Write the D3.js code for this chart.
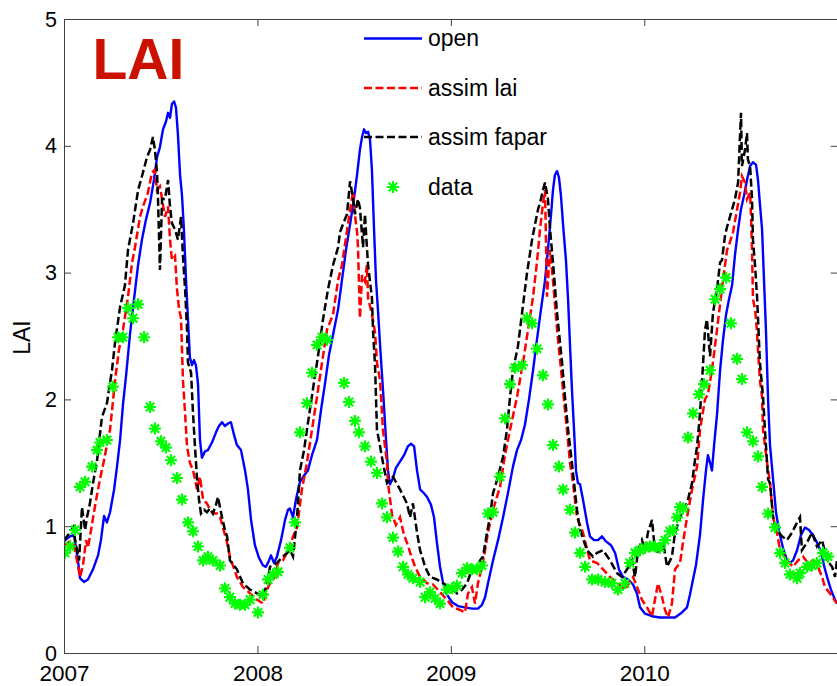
<!DOCTYPE html>
<html>
<head>
<meta charset="utf-8">
<script src="https://cdn.jsdelivr.net/npm/d3@7"></script>
<style>
  html, body { margin: 0; padding: 0; background: #fff; }
  svg { display: block; }
  text { font-family: "Liberation Sans", Arial, Helvetica, sans-serif; }
</style>
</head>
<body>
<svg id="chart" width="837" height="686"></svg>
<script>
// ---------------- data (decimal year, LAI) ----------------
const xTicks = [2007, 2008, 2009, 2010];
const yTicks = [0, 1, 2, 3, 4, 5];
const seriesNames = ["open", "assim lai", "assim fapar", "data"];

const openData = [
[2007.000,0.88],[2007.031,0.92],[2007.052,0.93],[2007.072,0.73],[2007.083,0.59],[2007.103,0.56],[2007.124,0.58],[2007.150,0.66],[2007.176,0.77],[2007.191,0.89],
[2007.207,1.08],[2007.222,1.03],[2007.238,1.11],[2007.259,1.29],[2007.274,1.47],[2007.290,1.68],[2007.305,1.96],[2007.321,2.19],[2007.341,2.51],[2007.362,2.79],
[2007.383,3.06],[2007.403,3.26],[2007.424,3.42],[2007.445,3.55],[2007.465,3.73],[2007.481,3.91],[2007.496,3.99],[2007.512,4.13],[2007.527,4.19],[2007.538,4.26],
[2007.548,4.22],[2007.558,4.33],[2007.569,4.35],[2007.579,4.30],[2007.589,4.09],[2007.600,3.77],[2007.610,3.61],[2007.620,3.34],[2007.631,2.94],[2007.641,2.63],
[2007.651,2.33],[2007.662,2.27],[2007.672,2.31],[2007.682,2.27],[2007.693,2.12],[2007.703,1.68],[2007.713,1.54],[2007.729,1.59],[2007.744,1.60],[2007.765,1.66],
[2007.786,1.74],[2007.801,1.79],[2007.817,1.82],[2007.832,1.79],[2007.848,1.81],[2007.863,1.82],[2007.879,1.72],[2007.894,1.64],[2007.915,1.60],[2007.936,1.44],
[2007.951,1.29],[2007.967,1.05],[2007.987,0.85],[2008.008,0.75],[2008.029,0.69],[2008.044,0.68],[2008.060,0.73],[2008.070,0.77],[2008.086,0.71],[2008.101,0.76],
[2008.122,0.89],[2008.143,1.05],[2008.158,1.13],[2008.168,1.14],[2008.184,1.07],[2008.199,1.21],[2008.220,1.35],[2008.241,1.40],[2008.261,1.44],[2008.282,1.56],
[2008.308,1.68],[2008.329,1.92],[2008.349,2.12],[2008.370,2.35],[2008.391,2.51],[2008.417,2.71],[2008.437,2.94],[2008.458,3.18],[2008.479,3.38],[2008.499,3.58],
[2008.515,3.77],[2008.530,3.97],[2008.541,4.07],[2008.551,4.13],[2008.561,4.10],[2008.572,4.11],[2008.582,4.05],[2008.592,3.81],[2008.603,3.34],[2008.613,2.94],
[2008.623,2.71],[2008.634,2.43],[2008.649,2.08],[2008.665,1.68],[2008.675,1.44],[2008.685,1.33],[2008.701,1.38],[2008.716,1.46],[2008.737,1.51],[2008.758,1.56],
[2008.778,1.63],[2008.794,1.65],[2008.810,1.63],[2008.825,1.44],[2008.841,1.29],[2008.861,1.26],[2008.877,1.23],[2008.897,1.17],[2008.913,1.07],[2008.928,0.87],
[2008.944,0.68],[2008.959,0.56],[2008.980,0.46],[2009.006,0.40],[2009.037,0.37],[2009.073,0.36],[2009.109,0.35],[2009.140,0.35],[2009.161,0.38],[2009.177,0.44],
[2009.192,0.55],[2009.218,0.73],[2009.244,0.89],[2009.270,1.07],[2009.295,1.26],[2009.321,1.47],[2009.342,1.60],[2009.363,1.68],[2009.383,1.80],[2009.404,2.00],
[2009.425,2.23],[2009.445,2.47],[2009.466,2.71],[2009.487,2.94],[2009.502,3.18],[2009.518,3.46],[2009.528,3.65],[2009.538,3.77],[2009.549,3.80],[2009.559,3.75],
[2009.569,3.61],[2009.580,3.38],[2009.595,3.10],[2009.606,2.79],[2009.616,2.43],[2009.626,2.08],[2009.637,1.76],[2009.647,1.44],[2009.657,1.34],[2009.668,1.33],
[2009.683,1.21],[2009.704,1.03],[2009.719,0.92],[2009.740,0.89],[2009.761,0.89],[2009.781,0.92],[2009.802,0.88],[2009.828,0.85],[2009.849,0.79],[2009.869,0.66],
[2009.890,0.60],[2009.916,0.58],[2009.942,0.54],[2009.962,0.47],[2009.978,0.36],[2010.004,0.31],[2010.040,0.29],[2010.081,0.28],[2010.123,0.28],[2010.159,0.28],
[2010.195,0.32],[2010.221,0.36],[2010.236,0.46],[2010.252,0.58],[2010.267,0.69],[2010.288,0.93],[2010.304,1.21],[2010.319,1.44],[2010.329,1.56],[2010.340,1.50],
[2010.350,1.44],[2010.361,1.64],[2010.376,1.88],[2010.392,2.23],[2010.407,2.47],[2010.423,2.67],[2010.438,2.79],[2010.454,2.90],[2010.469,3.14],[2010.485,3.34],
[2010.500,3.50],[2010.516,3.61],[2010.531,3.73],[2010.547,3.84],[2010.562,3.87],[2010.578,3.85],[2010.588,3.73],[2010.598,3.54],[2010.609,3.34],[2010.619,2.94],
[2010.629,2.55],[2010.640,2.00],[2010.650,1.64],[2010.666,1.37],[2010.681,1.11],[2010.697,0.96],[2010.717,0.83],[2010.738,0.73],[2010.753,0.71],[2010.769,0.73],
[2010.790,0.81],[2010.810,0.93],[2010.831,0.99],[2010.852,0.97],[2010.872,0.93],[2010.893,0.87],[2010.914,0.80],[2010.929,0.69],[2010.945,0.60],[2010.965,0.50],
[2010.986,0.42],[2010.996,0.39]
];

const lafData = [
[2007.000,0.85],[2007.031,0.88],[2007.052,0.85],[2007.067,0.73],[2007.083,0.60],[2007.098,0.69],[2007.114,0.89],[2007.124,0.83],[2007.140,0.97],[2007.155,1.11],
[2007.171,1.25],[2007.186,1.37],[2007.207,1.52],[2007.222,1.64],[2007.238,1.76],[2007.264,2.15],[2007.284,2.39],[2007.305,2.55],[2007.331,2.81],[2007.352,3.08],
[2007.367,3.20],[2007.393,3.44],[2007.408,3.52],[2007.434,3.63],[2007.455,3.79],[2007.470,3.81],[2007.481,3.65],[2007.496,3.68],[2007.507,3.58],[2007.522,3.44],
[2007.538,3.52],[2007.548,3.26],[2007.558,3.10],[2007.574,3.13],[2007.584,2.87],[2007.595,2.71],[2007.605,2.64],[2007.615,2.15],[2007.626,1.89],[2007.636,1.63],
[2007.651,1.50],[2007.667,1.44],[2007.677,1.37],[2007.688,1.29],[2007.703,1.39],[2007.719,1.21],[2007.739,1.18],[2007.755,1.13],[2007.770,1.10],[2007.791,1.10],
[2007.807,1.07],[2007.822,0.99],[2007.843,0.87],[2007.858,0.76],[2007.894,0.60],[2007.925,0.52],[2007.962,0.47],[2007.998,0.42],[2008.029,0.39],[2008.050,0.50],
[2008.065,0.55],[2008.091,0.60],[2008.106,0.71],[2008.132,0.73],[2008.168,0.84],[2008.184,0.92],[2008.205,0.99],[2008.230,1.29],[2008.256,1.50],[2008.282,1.76],
[2008.308,2.02],[2008.334,2.29],[2008.360,2.55],[2008.391,2.67],[2008.417,2.94],[2008.437,3.06],[2008.468,3.38],[2008.489,3.59],[2008.494,3.64],[2008.504,3.46],
[2008.515,3.32],[2008.520,3.20],[2008.530,2.64],[2008.541,2.98],[2008.556,2.93],[2008.566,3.06],[2008.572,2.80],[2008.592,2.67],[2008.608,2.53],[2008.618,2.29],
[2008.634,2.15],[2008.649,1.76],[2008.670,1.50],[2008.675,1.34],[2008.696,1.09],[2008.716,1.01],[2008.737,1.07],[2008.758,0.93],[2008.773,0.87],[2008.794,0.77],
[2008.815,0.68],[2008.841,0.60],[2008.877,0.55],[2008.908,0.54],[2008.944,0.48],[2008.980,0.42],[2009.011,0.36],[2009.047,0.34],[2009.073,0.32],[2009.089,0.47],
[2009.109,0.52],[2009.125,0.39],[2009.140,0.55],[2009.161,0.68],[2009.177,0.81],[2009.192,0.95],[2009.218,1.13],[2009.254,1.31],[2009.280,1.56],[2009.306,1.76],
[2009.342,2.02],[2009.373,2.29],[2009.399,2.55],[2009.425,2.81],[2009.445,3.08],[2009.461,3.34],[2009.476,3.54],[2009.487,3.65],[2009.497,2.81],[2009.513,3.18],
[2009.528,2.94],[2009.549,2.55],[2009.575,2.15],[2009.600,1.76],[2009.616,1.50],[2009.632,1.34],[2009.652,1.07],[2009.683,0.95],[2009.719,0.73],[2009.756,0.71],
[2009.787,0.66],[2009.823,0.60],[2009.864,0.55],[2009.900,0.50],[2009.942,0.60],[2009.968,0.50],[2009.988,0.42],[2010.014,0.36],[2010.040,0.29],[2010.055,0.42],
[2010.071,0.55],[2010.092,0.44],[2010.107,0.34],[2010.123,0.28],[2010.143,0.39],[2010.159,0.66],[2010.185,0.71],[2010.200,0.87],[2010.221,1.07],[2010.247,1.29],
[2010.273,1.47],[2010.288,1.76],[2010.314,2.00],[2010.329,2.04],[2010.350,2.23],[2010.376,2.55],[2010.407,2.94],[2010.428,3.18],[2010.443,3.24],[2010.459,3.32],
[2010.480,3.50],[2010.495,3.63],[2010.505,3.76],[2010.521,3.71],[2010.531,3.58],[2010.547,3.63],[2010.552,3.44],[2010.557,3.18],[2010.562,2.79],[2010.573,2.71],
[2010.583,2.53],[2010.588,2.39],[2010.598,2.15],[2010.609,2.02],[2010.614,1.76],[2010.635,1.50],[2010.650,1.34],[2010.666,1.07],[2010.686,0.95],[2010.702,0.81],
[2010.738,0.73],[2010.769,0.68],[2010.795,0.73],[2010.821,0.76],[2010.847,0.71],[2010.872,0.73],[2010.898,0.68],[2010.919,0.60],[2010.934,0.52],[2010.960,0.47],
[2010.996,0.39]
];

const fapData = [
[2007.000,0.89],[2007.021,0.93],[2007.047,0.99],[2007.062,0.85],[2007.078,0.73],[2007.093,1.15],[2007.109,0.97],[2007.119,1.07],[2007.134,1.18],[2007.150,1.34],
[2007.171,1.52],[2007.181,1.66],[2007.196,1.86],[2007.222,1.97],[2007.248,2.23],[2007.264,2.45],[2007.290,2.73],[2007.315,2.90],[2007.331,3.18],[2007.357,3.39],
[2007.383,3.65],[2007.403,3.76],[2007.429,3.91],[2007.445,3.97],[2007.460,4.07],[2007.470,3.97],[2007.481,3.79],[2007.486,3.58],[2007.496,3.02],[2007.507,3.58],
[2007.522,3.58],[2007.538,3.73],[2007.548,3.52],[2007.558,3.39],[2007.574,3.34],[2007.589,3.26],[2007.605,3.44],[2007.615,3.13],[2007.626,2.87],[2007.636,2.55],
[2007.641,2.29],[2007.657,2.21],[2007.667,1.89],[2007.677,1.63],[2007.688,1.37],[2007.698,1.21],[2007.708,1.10],[2007.724,1.13],[2007.739,1.11],[2007.755,1.14],
[2007.770,1.10],[2007.786,1.17],[2007.796,1.23],[2007.817,1.07],[2007.832,0.97],[2007.843,0.92],[2007.858,0.73],[2007.894,0.66],[2007.925,0.55],[2007.962,0.50],
[2007.998,0.47],[2008.029,0.44],[2008.050,0.55],[2008.065,0.68],[2008.101,0.71],[2008.132,0.76],[2008.168,0.81],[2008.184,0.76],[2008.205,1.07],[2008.220,1.44],
[2008.241,1.60],[2008.256,1.76],[2008.287,2.08],[2008.313,2.34],[2008.339,2.63],[2008.365,2.87],[2008.391,3.06],[2008.417,3.20],[2008.427,3.32],[2008.442,3.38],
[2008.463,3.46],[2008.479,3.72],[2008.494,3.59],[2008.504,3.46],[2008.520,3.58],[2008.530,3.51],[2008.546,3.20],[2008.556,3.46],[2008.566,3.20],[2008.572,3.06],
[2008.592,2.80],[2008.598,2.53],[2008.608,2.27],[2008.618,1.76],[2008.634,1.63],[2008.649,1.50],[2008.670,1.34],[2008.701,1.39],[2008.737,1.29],[2008.773,1.18],
[2008.789,1.07],[2008.804,1.18],[2008.825,0.95],[2008.841,0.81],[2008.867,0.68],[2008.892,0.60],[2008.928,0.58],[2008.959,0.55],[2008.996,0.52],[2009.032,0.47],
[2009.058,0.50],[2009.084,0.55],[2009.109,0.66],[2009.135,0.68],[2009.151,0.73],[2009.166,0.76],[2009.187,0.95],[2009.202,1.07],[2009.218,1.26],[2009.244,1.39],
[2009.270,1.55],[2009.290,1.76],[2009.306,2.02],[2009.321,2.23],[2009.347,2.42],[2009.368,2.68],[2009.394,3.00],[2009.420,3.26],[2009.435,3.38],[2009.451,3.50],
[2009.466,3.58],[2009.476,3.65],[2009.487,3.71],[2009.502,3.58],[2009.513,3.34],[2009.528,3.08],[2009.549,2.68],[2009.575,2.29],[2009.590,2.02],[2009.606,1.76],
[2009.626,1.50],[2009.637,1.34],[2009.652,1.13],[2009.668,0.97],[2009.704,0.81],[2009.735,0.76],[2009.756,0.79],[2009.787,0.81],[2009.823,0.73],[2009.859,0.63],
[2009.885,0.60],[2009.911,0.66],[2009.937,0.73],[2009.952,0.60],[2009.968,0.81],[2009.988,0.89],[2010.004,0.81],[2010.019,0.95],[2010.040,1.05],[2010.055,0.81],
[2010.081,0.79],[2010.097,0.87],[2010.118,0.68],[2010.143,0.76],[2010.159,0.95],[2010.185,1.07],[2010.200,1.13],[2010.221,1.18],[2010.247,1.34],[2010.262,1.52],
[2010.273,1.63],[2010.288,1.89],[2010.299,2.15],[2010.314,2.55],[2010.324,2.63],[2010.340,2.34],[2010.355,2.68],[2010.376,2.87],[2010.392,3.08],[2010.402,3.10],
[2010.418,3.30],[2010.428,3.36],[2010.443,3.44],[2010.469,3.58],[2010.485,3.71],[2010.500,4.26],[2010.505,3.84],[2010.521,3.97],[2010.531,4.10],[2010.536,3.89],
[2010.547,3.84],[2010.557,3.58],[2010.562,3.26],[2010.573,3.05],[2010.583,2.81],[2010.598,2.29],[2010.614,2.02],[2010.624,1.76],[2010.640,1.37],[2010.650,1.34],
[2010.666,1.07],[2010.686,0.97],[2010.712,0.92],[2010.738,0.89],[2010.764,0.95],[2010.790,1.03],[2010.805,1.07],[2010.815,0.81],[2010.841,0.87],[2010.867,0.95],
[2010.893,0.84],[2010.919,0.89],[2010.945,0.73],[2010.971,0.68],[2010.986,0.60],[2010.996,0.73]
];

const obsData = [
[2007.005,0.79],[2007.031,0.84],[2007.057,0.97],[2007.083,1.31],[2007.109,1.35],[2007.145,1.47],[2007.171,1.60],[2007.186,1.66],[2007.222,1.68],[2007.253,2.10],
[2007.279,2.49],[2007.305,2.49],[2007.331,2.72],[2007.357,2.64],[2007.383,2.75],[2007.414,2.49],[2007.445,1.94],[2007.470,1.77],[2007.501,1.67],[2007.527,1.62],
[2007.553,1.52],[2007.584,1.38],[2007.610,1.21],[2007.641,1.03],[2007.667,0.96],[2007.693,0.84],[2007.719,0.73],[2007.744,0.76],[2007.770,0.73],[2007.807,0.69],
[2007.832,0.51],[2007.858,0.44],[2007.884,0.39],[2007.910,0.38],[2007.936,0.38],[2007.962,0.42],[2008.003,0.32],[2008.029,0.46],[2008.055,0.58],[2008.081,0.62],
[2008.106,0.64],[2008.168,0.83],[2008.194,1.03],[2008.220,1.74],[2008.256,1.97],[2008.282,2.21],[2008.308,2.43],[2008.334,2.49],[2008.360,2.47],[2008.448,2.13],
[2008.473,1.98],[2008.504,1.83],[2008.525,1.74],[2008.556,1.63],[2008.587,1.51],[2008.618,1.42],[2008.644,1.18],[2008.670,1.07],[2008.701,0.91],[2008.727,0.80],
[2008.753,0.68],[2008.778,0.62],[2008.804,0.59],[2008.841,0.56],[2008.867,0.44],[2008.892,0.48],[2008.918,0.43],[2008.944,0.39],[2008.980,0.50],[2009.006,0.51],
[2009.032,0.53],[2009.058,0.63],[2009.084,0.67],[2009.109,0.66],[2009.135,0.66],[2009.161,0.69],[2009.192,1.10],[2009.218,1.11],[2009.254,1.39],[2009.280,1.85],
[2009.306,2.12],[2009.332,2.25],[2009.368,2.27],[2009.394,2.64],[2009.420,2.60],[2009.445,2.40],[2009.476,2.19],[2009.502,1.96],[2009.528,1.64],[2009.559,1.47],
[2009.580,1.29],[2009.616,1.13],[2009.642,0.95],[2009.668,0.79],[2009.694,0.68],[2009.730,0.58],[2009.761,0.58],[2009.797,0.56],[2009.833,0.55],[2009.864,0.50],
[2009.900,0.55],[2009.926,0.71],[2009.952,0.79],[2009.978,0.81],[2010.004,0.83],[2010.029,0.84],[2010.055,0.84],[2010.081,0.83],[2010.107,0.89],[2010.133,0.96],
[2010.149,0.97],[2010.169,1.07],[2010.185,1.15],[2010.200,1.14],[2010.226,1.70],[2010.252,1.89],[2010.283,2.04],[2010.309,2.12],[2010.340,2.23],[2010.366,2.79],
[2010.392,2.87],[2010.423,2.96],[2010.448,2.60],[2010.479,2.32],[2010.505,2.16],[2010.531,1.74],[2010.562,1.67],[2010.588,1.55],[2010.609,1.31],[2010.640,1.10],
[2010.676,0.99],[2010.702,0.79],[2010.728,0.71],[2010.753,0.62],[2010.790,0.59],[2010.805,0.63],[2010.841,0.68],[2010.867,0.69],[2010.893,0.71],[2010.924,0.79],
[2010.950,0.76]
];

// ---------------- layout ----------------
const svg = d3.select("#chart");
const L = 64, R = 837.7, T = 19, B = 653;
const x = d3.scaleLinear().domain([2007, 2011]).range([L, R]);
const y = d3.scaleLinear().domain([0, 5]).range([B, T]);
const FONT = 23;
const XFONT = 22.5;
const YFONT = 21.5;
const axisColor = "#404040";
const DASH = "8,3.5";

svg.append("defs").append("clipPath").attr("id", "plotclip")
  .append("rect").attr("x", L).attr("y", T).attr("width", R - L).attr("height", B - T);

const plot = svg.append("g").attr("clip-path", "url(#plotclip)");

const line = d3.line().x(d => x(d[0])).y(d => y(d[1]));

plot.append("path").datum(openData).attr("d", line)
  .attr("fill", "none").attr("stroke", "#0000ff").attr("stroke-width", 2.4).attr("stroke-linejoin", "round");
plot.append("path").datum(lafData).attr("d", line)
  .attr("fill", "none").attr("stroke", "#ff0000").attr("stroke-width", 2.5).attr("stroke-dasharray", DASH);
plot.append("path").datum(fapData).attr("d", line)
  .attr("fill", "none").attr("stroke", "#000000").attr("stroke-width", 2.5).attr("stroke-dasharray", DASH);

const star = "M-6,0H6M0,-6V6M-4.2,-4.2L4.2,4.2M-4.2,4.2L4.2,-4.2";
plot.selectAll("path.obs").data(obsData).enter().append("path")
  .attr("class", "obs")
  .attr("transform", d => `translate(${x(d[0])},${y(d[1])})`)
  .attr("d", star).attr("fill", "none").attr("stroke", "#00ff00").attr("stroke-width", 2.2);

// ---------------- axes ----------------
function styleAxis(g, size) {
  g.select(".domain").attr("stroke", axisColor);
  g.selectAll(".tick line").attr("stroke", axisColor);
  g.selectAll(".tick text").attr("font-size", size).attr("fill", "#000")
    .attr("font-family", '"Liberation Sans", Arial, sans-serif');
}

svg.append("g").attr("transform", `translate(0,${B})`)
  .call(d3.axisBottom(x).tickValues(xTicks).tickFormat(d3.format("d")).tickSize(-7).tickSizeOuter(0).tickPadding(12))
  .call(styleAxis, XFONT);
svg.append("g").attr("transform", `translate(0,${T})`)
  .call(d3.axisTop(x).tickValues(xTicks).tickFormat("").tickSize(-7).tickSizeOuter(0))
  .call(styleAxis, FONT);
const la = svg.append("g").attr("transform", `translate(${L},0)`)
  .call(d3.axisLeft(y).tickValues(yTicks).tickFormat(d3.format("d")).tickSize(-7).tickSizeOuter(0).tickPadding(7))
  .call(styleAxis, YFONT);
la.selectAll(".tick text").attr("dy", "0.33em");
svg.append("g").attr("transform", `translate(${R},0)`)
  .call(d3.axisRight(y).tickValues(yTicks).tickFormat("").tickSize(-7).tickSizeOuter(0))
  .call(styleAxis, FONT);

// y label
svg.append("text").attr("transform", `translate(30,337.5) rotate(-90)`)
  .attr("text-anchor", "middle").attr("font-size", FONT).text("LAI");

// title
svg.append("text").attr("x", 92.5).attr("y", 79)
  .attr("font-size", 57).attr("font-weight", "bold").attr("fill", "#cc1100").text("LAI");

// ---------------- legend ----------------
const legY = [38.5, 88, 137, 187];
const legStyles = [
  {stroke: "#0000ff", dash: null, w: 2.4},
  {stroke: "#ff0000", dash: DASH, w: 2.5},
  {stroke: "#000000", dash: DASH, w: 2.5},
  null
];
const leg = svg.append("g");
seriesNames.forEach((name, i) => {
  const s = legStyles[i];
  if (s) {
    const ln = leg.append("line").attr("x1", 364).attr("x2", 422).attr("y1", legY[i]).attr("y2", legY[i])
      .attr("stroke", s.stroke).attr("stroke-width", s.w);
    if (s.dash) ln.attr("stroke-dasharray", s.dash);
  } else {
    leg.append("path").attr("transform", `translate(393,${legY[i]})`).attr("d", star)
      .attr("fill", "none").attr("stroke", "#00ff00").attr("stroke-width", 2.2);
  }
  leg.append("text").attr("x", 428).attr("y", legY[i] + 7.7).attr("font-size", FONT).text(name);
});
</script>
</body>
</html>
